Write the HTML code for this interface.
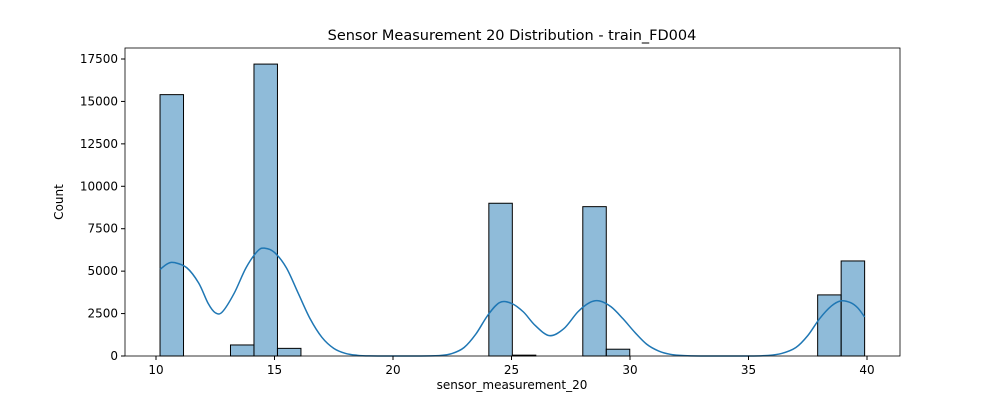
<!DOCTYPE html>
<html><head><meta charset="utf-8"><style>
body{margin:0;background:#fff;font-family:"Liberation Sans","DejaVu Sans",sans-serif}
svg text{font-family:"DejaVu Sans","Liberation Sans",sans-serif}
</style></head><body>
<svg id="c" width="1000" height="400"></svg>
<script>
const binStart=10.17, binWidth=0.991;
const binIndex=[0,3,4,5,14,15,18,19,28,29];
const counts=[15400,650,17200,450,9000,50,8800,400,3600,5600];
const kdeX=[10.17,10.5,10.8,11.3,11.8,12.2,12.5,12.8,13.3,13.8,14.3,14.6,15,15.5,16,16.5,17,17.5,18,18.5,19,20,21,22,22.5,23,23.5,24,24.5,25,25.5,26,26.6,27.2,27.8,28.3,28.7,29.2,29.7,30.2,30.7,31.2,31.7,32.3,33,35,35.8,36.4,37,37.5,38,38.5,38.9,39.3,39.6,39.9];
const kdeY=[5100,5450,5500,5200,4300,3100,2550,2600,3700,5200,6200,6350,6100,5200,3700,2200,1100,450,150,40,5,0,0,30,150,500,1300,2400,3150,3100,2600,1800,1200,1600,2600,3150,3250,2900,2200,1400,700,300,100,20,0,0,30,150,500,1200,2200,2950,3250,3150,2850,2300];
const xTicks=[10,15,20,25,30,35,40];
const yTicks=[0,2500,5000,7500,10000,12500,15000,17500];
const L=125,R=900,T=48,B=356;
const sx=v=>156+(v-10)*(867-156)/30;
const sy=v=>356-v*(356-59)/17500;
const s=document.getElementById('c');
const NS='http://www.w3.org/2000/svg';
function mk(t,a,p){const e=document.createElementNS(NS,t);for(const k in a)e.setAttribute(k,a[k]);(p||s).appendChild(e);return e;}
binIndex.forEach((k,i)=>{const x0=sx(binStart+k*binWidth),x1=sx(binStart+(k+1)*binWidth);
const r=mk('rect',{x:x0,y:sy(counts[i]),width:x1-x0,height:sy(0)-sy(counts[i]),fill:'rgba(31,119,180,0.5)',stroke:'#000','stroke-width':1});

});
const P=kdeX.map((x,i)=>[sx(x),sy(kdeY[i])]);
let d='M'+P[0][0]+','+P[0][1];
for(let i=0;i<P.length-1;i++){const p0=P[Math.max(0,i-1)],p1=P[i],p2=P[i+1],p3=P[Math.min(P.length-1,i+2)];
const c1=[p1[0]+(p2[0]-p0[0])/6,p1[1]+(p2[1]-p0[1])/6],c2=[p2[0]-(p3[0]-p1[0])/6,p2[1]-(p3[1]-p1[1])/6];
d+='C'+c1+' '+c2+' '+p2;}
const p=mk('path',{d:d,fill:'none',stroke:'#1f77b4','stroke-width':1.5,'stroke-linejoin':'round'});


const f=mk('rect',{x:L,y:T,width:R-L,height:B-T,fill:'none',stroke:'#000','stroke-width':0.8});


xTicks.forEach(v=>{mk('line',{x1:sx(v),x2:sx(v),y1:B,y2:B+4,stroke:'#000'});
const t=mk('text',{x:sx(v),y:B+18,'text-anchor':'middle','font-size':12});t.textContent=v;

});
yTicks.forEach(v=>{mk('line',{x1:L-4,x2:L,y1:sy(v),y2:sy(v),stroke:'#000'});
const t=mk('text',{x:L-7,y:sy(v)+4,'text-anchor':'end','font-size':12});t.textContent=v;

});
let t=mk('text',{x:512,y:40,'text-anchor':'middle','font-size':14.5});t.textContent='Sensor Measurement 20 Distribution - train_FD004';


t=mk('text',{x:512,y:389,'text-anchor':'middle','font-size':12});t.textContent='sensor_measurement_20';


t=mk('text',{x:0,y:0,'text-anchor':'middle','font-size':12,transform:'translate(63,202) rotate(-90)'});t.textContent='Count';


</script></body></html>
